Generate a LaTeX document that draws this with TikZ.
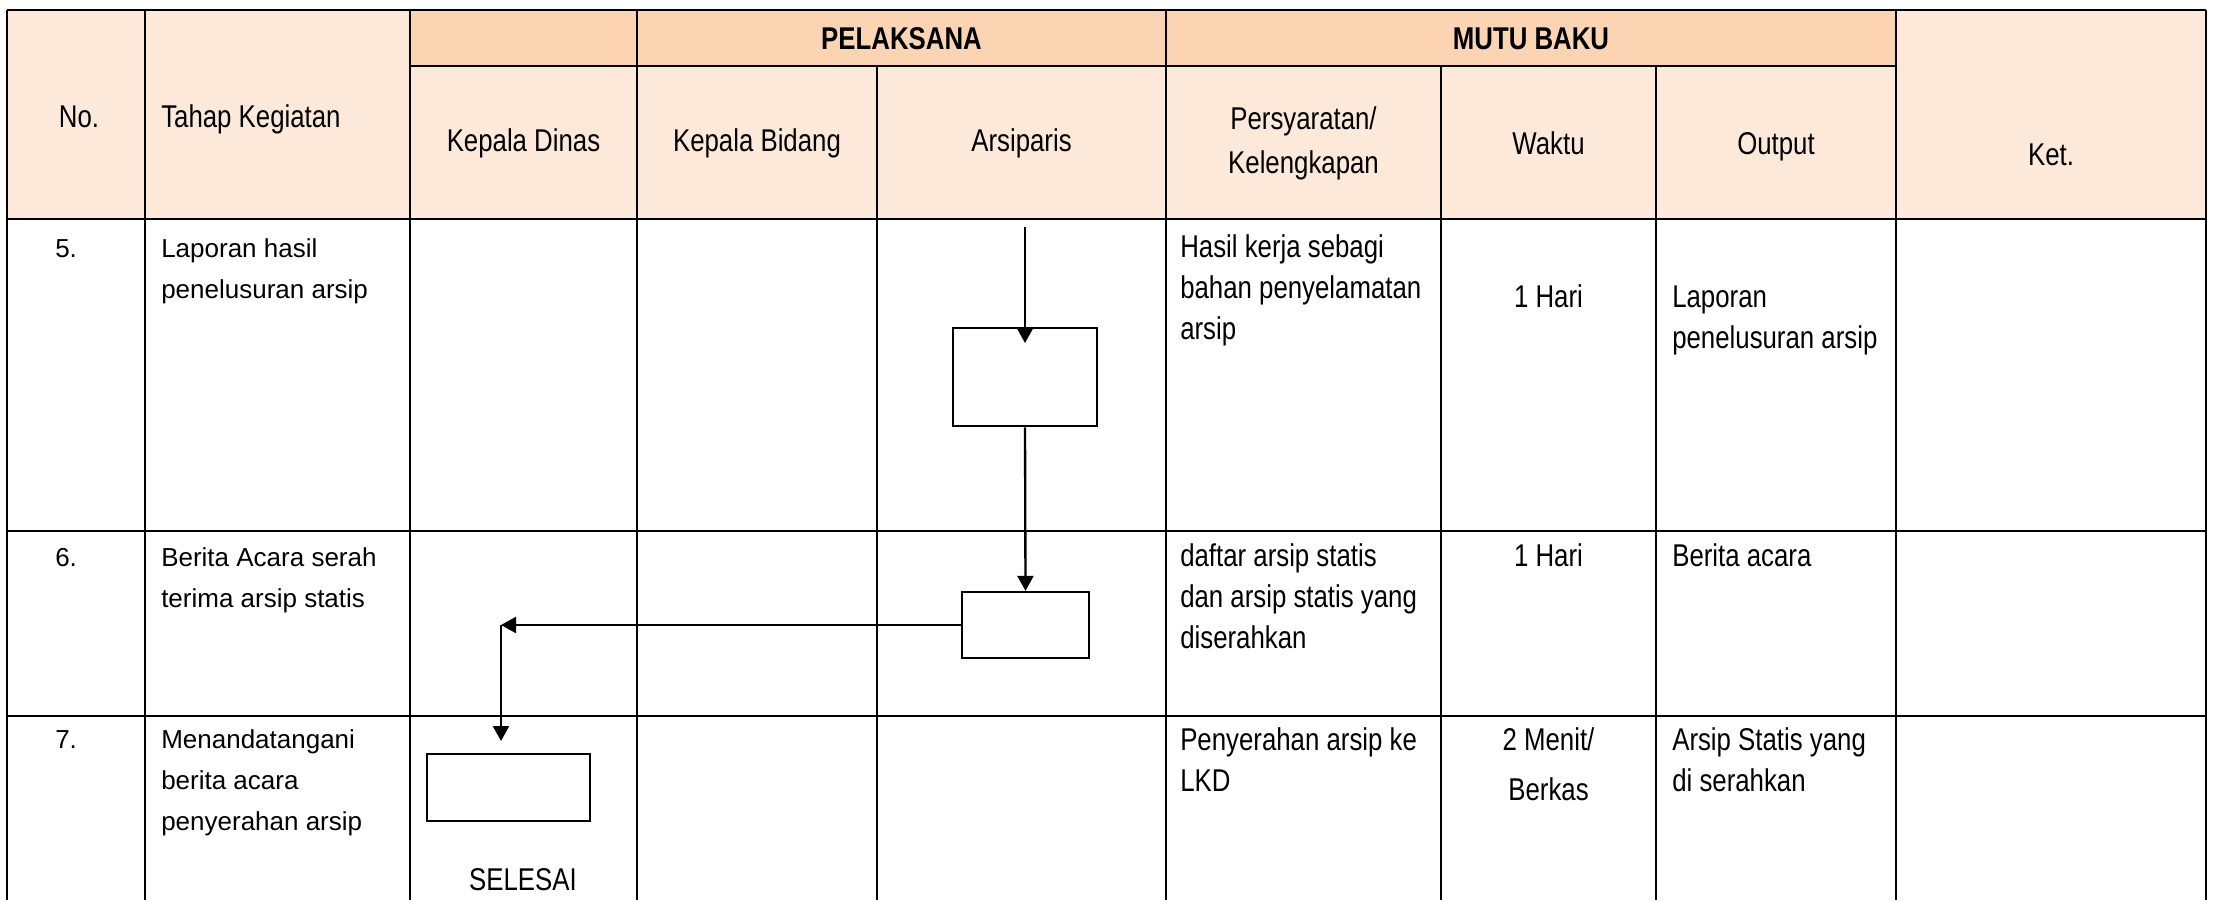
\documentclass[tikz,border=0pt]{standalone}
\usepackage{fontspec}
\setmainfont{Liberation Sans}
\newfontfamily\narrowfont{Liberation Sans}[FakeStretch=0.82]
\usetikzlibrary{arrows.meta}
\definecolor{hdrlight}{HTML}{FDE9D9}
\definecolor{hdrdark}{HTML}{FBD4B4}
\newcommand{\lefttab}[1]{\begin{tabular}[t]{@{}l@{}}#1\end{tabular}}
\newcommand{\centtab}[1]{\begin{tabular}[t]{@{}c@{}}#1\end{tabular}}
\begin{document}
\begin{tikzpicture}[x=0.75pt,y=-0.75pt,
  grid/.style={line width=1.75pt},
  nar/.style={font={\narrowfont\fontsize{23.6pt}{31.1pt}\selectfont}, inner sep=0pt},
  narhd/.style={font={\narrowfont\fontsize{23.6pt}{33pt}\selectfont}, inner sep=0pt},
  narwk/.style={font={\narrowfont\fontsize{23.6pt}{37.5pt}\selectfont}, inner sep=0pt},
  narb/.style={font={\narrowfont\bfseries\fontsize{23.6pt}{31.1pt}\selectfont}, inner sep=0pt},
  reg/.style={font={\fontsize{19.5pt}{31.1pt}\selectfont}, inner sep=0pt},
  flowbox/.style={draw=black, fill=white, inner sep=0pt},
  flow/.style={line width=1.75pt, -{Triangle[length=11.25pt,width=12pt]}}
]
\useasboundingbox (0,0) rectangle (2215,900);

% header fills
\fill[hdrlight] (7,10) rectangle (2206,219);
\fill[hdrdark] (410,10) rectangle (1896,66);

% grid lines
\draw[grid] (7,10) -- (2206,10);
\draw[grid] (410,66) -- (1896,66);
\draw[grid] (7,219) -- (2206,219);
\draw[grid] (7,531) -- (2206,531);
\draw[grid] (7,716) -- (2206,716);
\foreach \xx in {7,145,410,637,1166,1896,2206}
  \draw[grid] (\xx,10) -- (\xx,900);
\foreach \xx in {877,1441,1656}
  \draw[grid] (\xx,66) -- (\xx,900);

% header texts
\node[nar, anchor=base] (hno) at (79,127) {No.};
\node[nar, anchor=base west] (htahap) at (161,127) {Tahap Kegiatan};
\node[narb, anchor=base] (hpel) at (901.5,49) {PELAKSANA};
\node[narb, anchor=base] (hmutu) at (1531,49) {MUTU BAKU};
\node[nar, anchor=base] (hkd) at (523.5,151) {Kepala Dinas};
\node[nar, anchor=base] (hkb) at (757,151) {Kepala Bidang};
\node[nar, anchor=base] (hars) at (1021.5,151) {Arsiparis};
\node[narhd, anchor=base] (hpers) at (1303.5,129) {\centtab{Persyaratan/\\Kelengkapan}};
\node[nar, anchor=base] (hwaktu) at (1548.5,154) {Waktu};
\node[nar, anchor=base] (hout) at (1776,154) {Output};
\node[nar, anchor=base] (hket) at (2051,165) {Ket.};

% row 5
\node[reg, anchor=base west] (n5) at (55,257) {5.};
\node[reg, anchor=base west] (t5) at (161,257) {\lefttab{Laporan hasil\\penelusuran arsip}};
\node[nar, anchor=base west] (p5) at (1180,257) {\lefttab{Hasil kerja sebagi\\bahan penyelamatan\\arsip}};
\node[nar, anchor=base] (w5) at (1548.5,307) {1 Hari};
\node[nar, anchor=base west] (o5) at (1672,307) {\lefttab{Laporan\\penelusuran arsip}};

% row 6
\node[reg, anchor=base west] (n6) at (55,566) {6.};
\node[reg, anchor=base west] (t6) at (161,566) {\lefttab{Berita Acara serah\\terima arsip statis}};
\node[nar, anchor=base west] (p6) at (1180,566) {\lefttab{daftar arsip statis\\dan arsip statis yang\\diserahkan}};
\node[nar, anchor=base] (w6) at (1548.5,566) {1 Hari};
\node[nar, anchor=base west] (o6) at (1672,566) {Berita acara};

% row 7
\node[reg, anchor=base west] (n7) at (55,748) {7.};
\node[reg, anchor=base west] (t7) at (161,748) {\lefttab{Menandatangani\\berita acara\\penyerahan arsip}};
\node[nar, anchor=base west] (p7) at (1180,750) {\lefttab{Penyerahan arsip ke\\LKD}};
\node[narwk, anchor=base] (w7) at (1548.5,750) {\centtab{2 Menit/\\Berkas}};
\node[nar, anchor=base west] (o7) at (1672,750) {\lefttab{Arsip Statis yang\\di serahkan}};

% flow boxes
\node[flowbox, line width=2pt, minimum width=108pt, minimum height=73.5pt] (box1) at (1025,377) {};
\node[flowbox, line width=1.7pt, minimum width=95.25pt, minimum height=49.5pt] (box2) at (1025.5,625) {};
\node[flowbox, line width=1.9pt, minimum width=122.25pt, minimum height=50.25pt] (box3) at (508.5,787.5) {};
\node[nar, anchor=base] (selesai) at (523,890) {SELESAI};

% connectors
\coordinate (start) at (1025,227);
\coordinate (in1) at (1025,343);
\coordinate (corner) at (501,625);
\coordinate (in3) at (501,741);
\draw[flow] (start) -- (in1);
\draw[flow] (box1.south) -- (box2.north);
\draw[flow] (box2.west) -- (corner);
\draw[flow] (corner) -- (in3);
\end{tikzpicture}
\end{document}
